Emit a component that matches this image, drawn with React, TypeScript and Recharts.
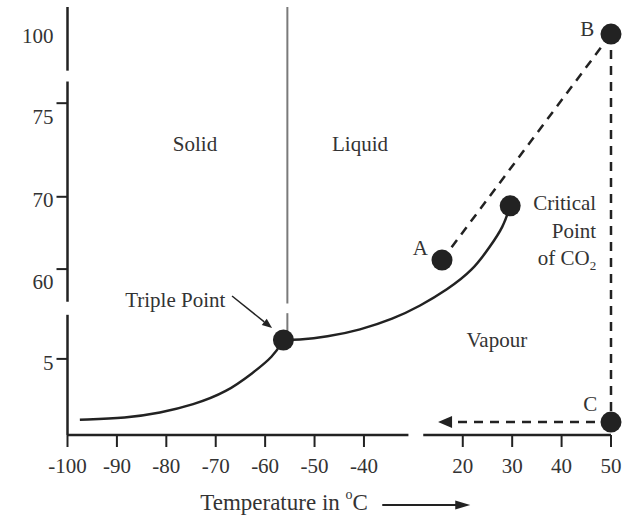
import {
  ComposedChart,
  Line,
  Scatter,
  XAxis,
  YAxis,
  ReferenceLine,
} from "recharts";

// axis ticks (the axes are broken, so each axis is a piecewise scale)
const xTickTemps = [-100, -90, -80, -70, -60, -50, -40, 20, 30, 40, 50];
const yTickPressures = [5, 60, 70, 75, 100];

// knots of the piecewise scales: value -> axis position
const tempKnots = [-100, -40, 20, 50];
const tempKnotPos = [0, 6, 8, 11];
const presKnots = [0, 5, 60, 70, 75, 100];
const presKnotPos = [0, 1, 2.18, 3.13, 4.36, 5.25];
const presTop = 110.5;

// axis breaks
const xAxisParts = [[-100, -13], [-4, 50]];
const yAxisParts = [[0, 32], [40, 83], [87, presTop]];

// sublimation curve (solid / vapour)
const subTemps = [-97.5, -88, -81.3, -74.6, -67.7, -62.5, -58.4, -56.3];
const subPressures = [1.0, 1.12, 1.45, 1.97, 2.83, 4.08, 6.2, 16.6];

// vaporisation curve (liquid / vapour)
const vapTemps = [-56.3, -53.5, -47.5, -40.8, -22.3, -5.9, 10.4, 22.1, 25.5, 28.2, 29.6];
const vapPressures = [16.6, 16.6, 18.4, 22.7, 29.4, 37.4, 47.2, 59.4, 63.1, 65.8, 68.75];

// melting line (solid / liquid)
const meltTemp = -55.5;
const meltParts = [[16.6, 33], [39, presTop]];

// marked points
const pointNames = ["Triple", "A", "Critical", "B", "C"];
const pointTemps = [-56.3, 7.4, 29.6, 50, 50];
const pointPressures = [16.6, 61.25, 68.75, 100.5, 0.85];

// process path A -> B -> C -> back along the axis
const arrowTipTemp = 5;

// text on the diagram
const labelTexts = ["Solid", "Liquid", "Triple Point", "A", "B", "C", "Critical", "Point", "of CO", "Vapour"];
const labelTemps = [-74.2, -40.8, -78.2, -5.8, 45.2, 45.8, 47, 47, 47, 26.9];
const labelPressures = [72.8, 72.8, 41.1, 62.9, 102.2, 2.04, 69.2, 65.3, 61.5, 16.6];

const FONT = '"Liberation Serif", "Times New Roman", serif';
const INK = "#222";
const TEXT = "#333";

function interp(v: number, xs: number[], ys: number[]) {
  let i = 0;
  while (i < xs.length - 2 && v > xs[i + 1]) i++;
  const t = (v - xs[i]) / (xs[i + 1] - xs[i]);
  return ys[i] + t * (ys[i + 1] - ys[i]);
}
const tx = (t: number) => interp(t, tempKnots, tempKnotPos);
const py = (p: number) => interp(p, presKnots, presKnotPos);

const subData = subTemps.map((t, i) => ({ x: tx(t), y: py(subPressures[i]) }));
const vapData = vapTemps.map((t, i) => ({ x: tx(t), y: py(vapPressures[i]) }));
const pointData = pointNames.map((n, i) => ({ name: n, x: tx(pointTemps[i]), y: py(pointPressures[i]) }));
const labelData = labelTexts.map((s, i) => ({ text: s, x: tx(labelTemps[i]), y: py(labelPressures[i]) }));

const pt = (name: string) => {
  const i = pointNames.indexOf(name);
  return { x: tx(pointTemps[i]), y: py(pointPressures[i]) };
};

const yNudge: Record<string, number> = { "100": 1, "75": 14, "70": 3, "60": 13, "5": 4 };

function YTick(props: any) {
  const { x, y, payload } = props;
  const p = yTickPressures.find((v) => Math.abs(py(v) - payload.value) < 1e-6);
  const s = String(p);
  return (
    <g>
      {s !== "100" && <line x1={x - 11} x2={x} y1={y} y2={y} stroke={INK} strokeWidth={2} />}
      <text x={x - 14} y={y + yNudge[s]} dy={7} textAnchor="end" fontFamily={FONT} fontSize={21} fill={TEXT}>
        {s}
      </text>
    </g>
  );
}

function XTick(props: any) {
  const { x, y, payload } = props;
  const t = xTickTemps.find((v) => Math.abs(tx(v) - payload.value) < 1e-6);
  return (
    <g>
      <line x1={x} x2={x} y1={y} y2={y + 12} stroke={INK} strokeWidth={2} />
      <text x={x} y={y + 38} textAnchor="middle" fontFamily={FONT} fontSize={21} fill={TEXT}>
        {String(t)}
      </text>
    </g>
  );
}

function XLabel(props: any) {
  const vb = props.viewBox;
  const cx = vb.x + vb.width / 2;
  const y = vb.y + 75;
  return (
    <g>
      <text x={cx - 139} y={y} fontFamily={FONT} fontSize={23} fill={TEXT}>
        Temperature in{" "}
        <tspan dy={-11} fontSize={14}>o</tspan>
        <tspan dy={11}>C</tspan>
      </text>
      <line x1={cx + 43} x2={cx + 120} y1={y - 5} y2={y - 5} stroke={INK} strokeWidth={2} />
      <polygon points={`${cx + 131},${y - 5} ${cx + 116},${y - 9.5} ${cx + 116},${y - 0.5}`} fill={INK} />
    </g>
  );
}

function Arrow(props: any) {
  const { x1, y1, x2, y2, stroke, strokeWidth, strokeDasharray, headLen = 14, headHalf = 6 } = props;
  const a = Math.atan2(y2 - y1, x2 - x1);
  const bx = x2 - headLen * Math.cos(a);
  const by = y2 - headLen * Math.sin(a);
  const nx = -Math.sin(a) * headHalf;
  const ny = Math.cos(a) * headHalf;
  return (
    <g>
      <line x1={x1} y1={y1} x2={bx} y2={by} stroke={stroke} strokeWidth={strokeWidth} strokeDasharray={strokeDasharray} />
      <polygon points={`${x2},${y2} ${bx + nx},${by + ny} ${bx - nx},${by - ny}`} fill={stroke} />
    </g>
  );
}

function Dot(props: any) {
  return <circle cx={props.cx} cy={props.cy} r={10.5} fill={INK} />;
}

function TextMark(props: any) {
  const { cx, cy, payload } = props;
  const s: string = payload.text;
  const right = s === "Critical" || s === "Point" || s === "of CO";
  return (
    <text
      x={cx}
      y={cy}
      dy={7}
      textAnchor={right ? "end" : "middle"}
      fontFamily={FONT}
      fontSize={21}
      fill={TEXT}
    >
      {s}
      {s === "of CO" && (
        <tspan dy={5} fontSize={13}>
          2
        </tspan>
      )}
    </text>
  );
}

export default function App() {
  const A = pt("A");
  const B = pt("B");
  const C = pt("C");
  return (
    <div style={{ position: "absolute", left: 0, top: 0, background: "#fff" }}>
      <ComposedChart width={629} height={520} margin={{ top: 7, right: 18, bottom: 0, left: 7.5 }}>
        <XAxis
          type="number"
          dataKey="x"
          domain={[0, 11]}
          ticks={xTickTemps.map(tx)}
          interval={0}
          axisLine={false}
          tickLine={false}
          tickSize={0}
          tickMargin={0}
          tick={<XTick />}
          height={85}
          label={<XLabel />}
        />
        <YAxis
          type="number"
          dataKey="y"
          domain={[0, py(presTop)]}
          ticks={yTickPressures.map(py)}
          interval={0}
          axisLine={false}
          tickLine={false}
          tickSize={0}
          tickMargin={0}
          tick={<YTick />}
          width={60}
        />
        {xAxisParts.map(([a, b], i) => (
          <ReferenceLine
            key={"xa" + i}
            ifOverflow="visible"
            segment={[{ x: tx(a), y: 0 }, { x: tx(b), y: 0 }]}
            stroke={INK}
            strokeWidth={2.5}
          />
        ))}
        {yAxisParts.map(([a, b], i) => (
          <ReferenceLine
            key={"ya" + i}
            ifOverflow="visible"
            segment={[{ x: 0, y: py(a) }, { x: 0, y: py(b) }]}
            stroke={INK}
            strokeWidth={2.5}
          />
        ))}
        {meltParts.map(([a, b], i) => (
          <ReferenceLine
            key={"m" + i}
            ifOverflow="visible"
            segment={[{ x: tx(meltTemp), y: py(a) }, { x: tx(meltTemp), y: py(b) }]}
            stroke="#7a7a7a"
            strokeWidth={2}
          />
        ))}
        <ReferenceLine ifOverflow="visible" segment={[A, B]} stroke={INK} strokeWidth={2.5} strokeDasharray="9 7" />
        <ReferenceLine ifOverflow="visible" segment={[B, C]} stroke={INK} strokeWidth={2.5} strokeDasharray="9 7" />
        <ReferenceLine
          ifOverflow="visible"
          segment={[C, { x: tx(arrowTipTemp), y: C.y }]}
          stroke={INK}
          strokeWidth={2.5}
          strokeDasharray="9 7"
          shape={(p: any) => <Arrow {...p} />}
        />
        <ReferenceLine
          ifOverflow="visible"
          segment={[
            { x: tx(-66.7), y: py(43.5) },
            { x: tx(-58.6), y: py(23.9) },
          ]}
          stroke={INK}
          strokeWidth={1.5}
          shape={(p: any) => <Arrow {...p} headLen={10} headHalf={4} />}
        />
        <Line
          data={subData}
          dataKey="y"
          type="basis"
          stroke={INK}
          strokeWidth={2.5}
          dot={false}
          isAnimationActive={false}
        />
        <Line
          data={vapData}
          dataKey="y"
          type="basis"
          stroke={INK}
          strokeWidth={2.5}
          dot={false}
          isAnimationActive={false}
        />
        <Scatter data={pointData} dataKey="y" shape={<Dot />} isAnimationActive={false} />
        <Scatter data={labelData} dataKey="y" shape={<TextMark />} isAnimationActive={false} />
      </ComposedChart>
    </div>
  );
}
